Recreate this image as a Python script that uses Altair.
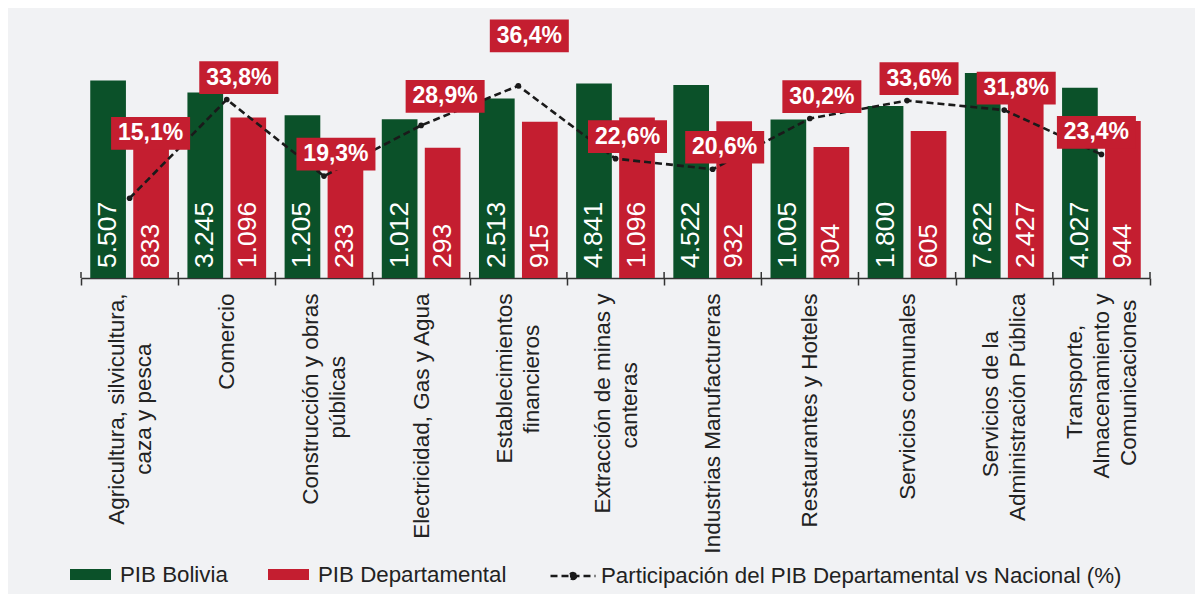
import altair as alt
import pandas as pd

# ---------------- data ----------------
etiquetas = [
    ["Agricultura, silvicultura,", "caza y pesca"],
    ["Comercio"],
    ["Construcción y obras", "públicas"],
    ["Electricidad, Gas y Agua"],
    ["Establecimientos", "financieros"],
    ["Extracción de minas y", "canteras"],
    ["Industrias Manufactureras"],
    ["Restaurantes y Hoteles"],
    ["Servicios comunales"],
    ["Servicios de la", "Administración Pública"],
    ["Transporte,", "Almacenamiento y", "Comunicaciones"],
]
pib_bolivia = [5507, 3245, 1205, 1012, 2513, 4841, 4522, 1005, 1800, 7622, 4027]
pib_departamental = [833, 1096, 233, 293, 915, 1096, 932, 304, 605, 2427, 944]
participacion = [15.1, 33.8, 19.3, 28.9, 36.4, 22.6, 20.6, 30.2, 33.6, 31.8, 23.4]
series = ["PIB Bolivia", "PIB Departamental"]
serie_linea = "Participación del PIB Departamental vs Nacional (%)"

# ---------------- style ----------------
FONT = "Liberation Sans"
GREEN = "#0B5129"
RED = "#C41E30"
INK = "#222222"
AXIS = "#333333"
BG = "#F1F2F4"
NBSP = "\u00a0"
ZWSP = "\u200b"   # keeps the NBSP padding from being trimmed
LABEL_SIZE = 22.5
LINE_H = 27


def ancho(texto):
    """Approximate Arial advance width in em, used to centre wrapped lines."""
    w = 0.0
    for ch in texto:
        if ch in "ijlí":
            w += 0.222
        elif ch in " ,.ftI":
            w += 0.278
        elif ch == "r":
            w += 0.333
        elif ch in "ckvxyzs":
            w += 0.5
        elif ch in "mM":
            w += 0.833
        elif ch in "CDGHNORU":
            w += 0.722
        elif ch.isupper():
            w += 0.667
        else:
            w += 0.556
    return w


def centrar(lineas):
    m = max(ancho(l) for l in lineas)
    out = []
    for l in lineas:
        n = int(round((m - ancho(l)) / 2 / 0.278))
        out.append(l + (NBSP * n + ZWSP if n > 0 else ""))
    return "|".join(out)


cats = [centrar(l) for l in etiquetas]


def miles(v):
    return f"{v:,}".replace(",", ".")


df = pd.DataFrame({
    "cat": cats,
    "idx": list(range(len(cats))),
    "pct": participacion,
    "pct_txt": [f"{p:.1f}".replace(".", ",") + "%" for p in participacion],
    "leyenda": [serie_linea] * len(cats),
})

rows = []
for c, b, d in zip(cats, pib_bolivia, pib_departamental):
    rows.append({"cat": c, "serie": series[0], "valor": b, "texto": miles(b)})
    rows.append({"cat": c, "serie": series[1], "valor": d, "texto": miles(d)})
df_long = pd.DataFrame(rows)

log_scale = alt.Scale(type="log", domain=[1, 100000])
pct_scale = alt.Scale(domain=[0, 50])

# multi-line labels: shift so the block of lines is centred on its band
label_offset = {
    "condition": [
        {"test": "length(split(datum.value, '|')) == 3", "value": -LINE_H},
        {"test": "length(split(datum.value, '|')) == 2", "value": -LINE_H / 2},
    ],
    "value": 0,
}

x_enc = alt.X(
    "cat:N", sort=cats, title=None,
    scale=alt.Scale(paddingInner=0, paddingOuter=0),
    axis=alt.Axis(
        labelAngle=-90, labelAlign="right", labelBaseline="middle",
        labelExpr="split(datum.label, '|')",
        labelFont=FONT, labelFontSize=LABEL_SIZE, labelColor=INK, labelLineHeight=LINE_H,
        labelPadding=8, labelLimit=600, labelOverlap=False,
        labelOffset=label_offset,
        tickSize=7, tickBand="extent", tickColor=AXIS, tickWidth=1.5,
        domainColor=AXIS, domainWidth=1.5, grid=False,
    ),
)
xoff_enc = alt.XOffset("serie:N", sort=series,
                       scale=alt.Scale(paddingInner=0.17, paddingOuter=0.215))

BAR_SYM = "M-1,-0.268L1,-0.268L1,0.268L-1,0.268Z"
LINE_SYM = "M-1,0L1,0M0.14,0A0.14,0.14 0 1,1 -0.14,0A0.14,0.14 0 1,1 0.14,0Z"
BOX = "M-1,-0.414L1,-0.414L1,0.414L-1,0.414Z"

bars = alt.Chart(df_long).mark_bar().encode(
    x=x_enc,
    xOffset=xoff_enc,
    y=alt.Y("valor:Q", scale=log_scale, axis=None),
    y2=alt.Y2Datum(1),
    color=alt.Color(
        "serie:N",
        scale=alt.Scale(domain=series, range=[GREEN, RED]),
        legend=alt.Legend(
            title=None, orient="none", legendX=-11, legendY=540,
            direction="horizontal", symbolType=BAR_SYM, symbolSize=1681,
            symbolStrokeWidth=0, symbolOpacity=1,
            labelFont=FONT, labelFontSize=22.3, labelColor=INK, labelLimit=600,
            labelOffset=9, columnPadding=40, padding=0,
        ),
    ),
)

# short tick stubs above the axis line, at the band boundaries
tick_up = alt.Chart(df).mark_rule(color=AXIS, strokeWidth=1.5, y2Offset=-6).encode(
    x=alt.X("cat:N", sort=cats, bandPosition=0),
    y=alt.YDatum(1, scale=log_scale, axis=None),
    y2=alt.Y2Datum(1),
)
tick_up_end = alt.Chart(df).transform_filter(f"datum.idx == {len(cats) - 1}").mark_rule(
    color=AXIS, strokeWidth=1.5, y2Offset=-6).encode(
    x=alt.X("cat:N", sort=cats, bandPosition=1),
    y=alt.YDatum(1, scale=log_scale, axis=None),
    y2=alt.Y2Datum(1),
)

bar_text = alt.Chart(df_long).mark_text(
    angle=270, align="left", baseline="middle", dx=10,
    color="white", font=FONT, fontSize=26.5,
).encode(
    x=alt.X("cat:N", sort=cats),
    xOffset=xoff_enc,
    y=alt.YDatum(1, scale=log_scale, axis=None),
    text="texto:N",
)

line = alt.Chart(df).mark_line(color="#1a1a1a", strokeWidth=2.6).encode(
    x=alt.X("cat:N", sort=cats),
    y=alt.Y("pct:Q", scale=pct_scale, axis=None),
    strokeDash=alt.StrokeDash(
        "leyenda:N",
        scale=alt.Scale(domain=[serie_linea], range=[[7, 4]]),
        legend=alt.Legend(
            title=None, orient="none", legendX=468, legendY=538,
            symbolType=LINE_SYM, symbolSize=2025, symbolStrokeWidth=2.4,
            symbolStrokeColor="#1a1a1a", symbolFillColor="#1a1a1a",
            labelFont=FONT, labelFontSize=22.3, labelColor=INK,
            labelOffset=4, padding=0, labelLimit=800,
        ),
    ),
)

points = alt.Chart(df).mark_point(filled=True, size=32, color="#1a1a1a", opacity=1).encode(
    x=alt.X("cat:N", sort=cats),
    y=alt.Y("pct:Q", scale=pct_scale, axis=None),
)

# label nudges (style): default and a few hand-placed ones
default_nudge = (12, -22)
nudges = {0: (21, -65), 3: (24, -29), 4: (11, -50), 10: (-5, -22)}


def label_layers(filt, dx, dy):
    base = alt.Chart(df).transform_filter(filt)
    box = base.mark_point(shape=BOX, size=6241, filled=True, color=RED,
                          opacity=1, xOffset=dx, yOffset=dy).encode(
        x=alt.X("cat:N", sort=cats),
        y=alt.Y("pct:Q", scale=pct_scale, axis=None),
    )
    txt = base.mark_text(dx=dx, dy=dy, font=FONT, fontSize=23, fontWeight="bold",
                         color="white", align="center", baseline="middle").encode(
        x=alt.X("cat:N", sort=cats),
        y=alt.Y("pct:Q", scale=pct_scale, axis=None),
        text="pct_txt:N",
    )
    return [box, txt]


layers = [bars, tick_up, tick_up_end, bar_text, line, points]
others = " && ".join(f"datum.idx != {i}" for i in nudges)
layers += label_layers(others, *default_nudge)
for i, (dx, dy) in nudges.items():
    layers += label_layers(f"datum.idx == {i}", dx, dy)

chart = alt.layer(*layers).resolve_scale(y="independent").properties(
    width=1069, height=264,
    padding={"left": 73, "top": 6, "right": 45, "bottom": 316},
    autosize=alt.AutoSizeParams(type="none"),
).configure(background=BG).configure_view(stroke=None)

chart.save("out.html", embed_options={"renderer": "svg", "actions": False})
